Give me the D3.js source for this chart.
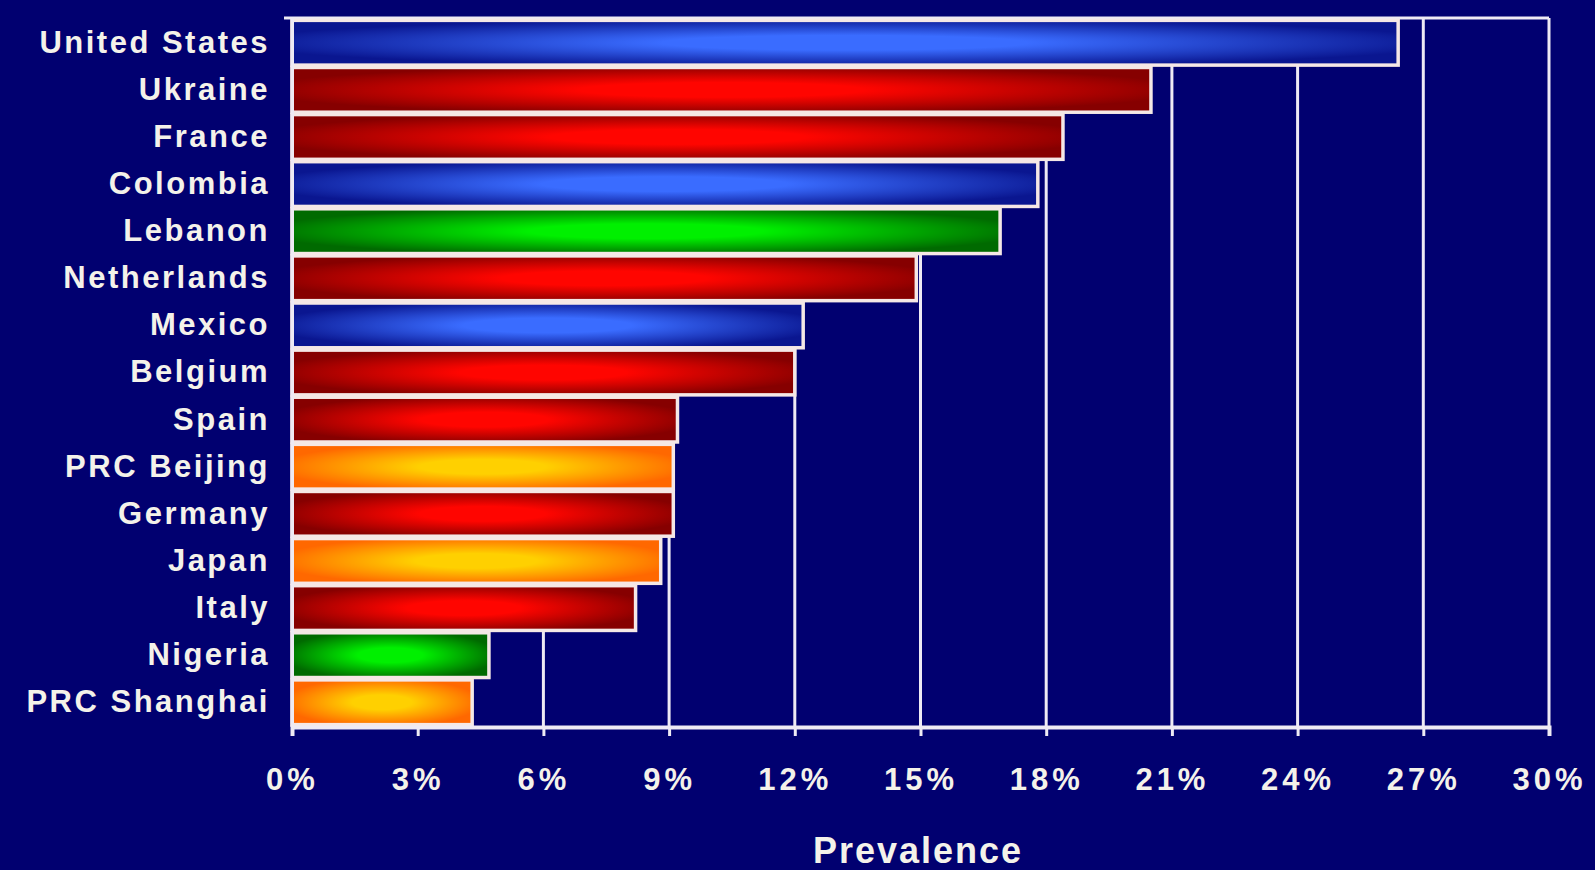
<!DOCTYPE html>
<html>
<head>
<meta charset="utf-8">
<script src="https://cdn.jsdelivr.net/npm/d3@7"></script>
<style>
  html, body { margin: 0; padding: 0; background: #010070; }
  svg { display: block; }
  text { font-family: "Liberation Sans", Arial, sans-serif; font-weight: bold; fill: #f4f2ea; }
</style>
</head>
<body>
<svg id="chart" width="1595" height="870"></svg>
<script>
const countries = ["United States","Ukraine","France","Colombia","Lebanon","Netherlands","Mexico","Belgium","Spain","PRC Beijing","Germany","Japan","Italy","Nigeria","PRC Shanghai"];
const prevalence = [0.264,0.205,0.184,0.178,0.169,0.149,0.122,0.120,0.092,0.091,0.091,0.088,0.082,0.047,0.043];
const region = ["americas","europe","europe","americas","mideast","europe","americas","europe","europe","asia","europe","asia","europe","africa","asia"];
const tickValues = [0,0.03,0.06,0.09,0.12,0.15,0.18,0.21,0.24,0.27,0.30];
const axisTitle = "Prevalence";

const palette = {
  americas: ["#3a6cff", "#0a1690"],
  europe:   ["#ff0500", "#860000"],
  mideast:  ["#00f000", "#006a00"],
  africa:   ["#00f000", "#006a00"],
  asia:     ["#ffd000", "#ff6800"]
};

const svg = d3.select("#chart");
const plotLeft = 292, plotRight = 1549, plotTop = 18, plotBottom = 727;

const x = d3.scaleLinear().domain([0, 0.30]).range([plotLeft, plotRight]);
const y = d3.scaleBand().domain(countries).range([plotTop, plotBottom]).paddingInner(0.05).paddingOuter(0.05);

const defs = svg.append("defs");
Object.entries(palette).forEach(([k, c]) => {
  const g = defs.append("radialGradient").attr("id", "g-" + k)
    .attr("cx", "0.5").attr("cy", "0.5").attr("r", "0.55");
  g.append("stop").attr("offset", "0").attr("stop-color", c[0]);
  g.append("stop").attr("offset", "0.3").attr("stop-color", c[0]);
  g.append("stop").attr("offset", "1").attr("stop-color", c[1]);
});

const lineColor = "#eeeaf4";

// gridlines
svg.append("g").selectAll("line").data(tickValues).join("line")
  .attr("x1", d => x(d)).attr("x2", d => x(d))
  .attr("y1", plotTop).attr("y2", plotBottom)
  .attr("stroke", lineColor).attr("stroke-width", 3);

// top border
svg.append("line").attr("x1", plotLeft - 8).attr("x2", plotRight).attr("y1", plotTop).attr("y2", plotTop)
  .attr("stroke", lineColor).attr("stroke-width", 3);

// bars
svg.append("g").selectAll("rect").data(countries).join("rect")
  .attr("x", x(0))
  .attr("y", d => y(d))
  .attr("width", (d, i) => x(prevalence[i]) - x(0))
  .attr("height", y.bandwidth())
  .attr("fill", (d, i) => "url(#g-" + region[i] + ")")
  .attr("stroke", "#f5e8e6").attr("stroke-width", 3.5);

// x axis
const xAxis = d3.axisBottom(x).tickValues(tickValues).tickFormat(d3.format(".0%")).tickSize(9).tickPadding(32);
const gx = svg.append("g").attr("transform", `translate(0,${plotBottom})`).call(xAxis);
gx.select(".domain").attr("stroke", lineColor).attr("stroke-width", 4);
gx.selectAll(".tick line").attr("stroke", lineColor).attr("stroke-width", 3);
gx.selectAll(".tick text").attr("font-size", 31).attr("fill", "#f4f2ea").attr("letter-spacing", 4)
  .attr("font-family", "Liberation Sans, Arial, sans-serif").attr("font-weight", "bold");

// y axis
const yAxis = d3.axisLeft(y).tickSize(0).tickPadding(22);
const gy = svg.append("g").attr("transform", `translate(${plotLeft},0)`).call(yAxis);
gy.select(".domain").attr("stroke", lineColor).attr("stroke-width", 3);
gy.selectAll(".tick text").attr("font-size", 31).attr("fill", "#f4f2ea").attr("letter-spacing", 2.5)
  .attr("font-family", "Liberation Sans, Arial, sans-serif").attr("font-weight", "bold");

// axis title
svg.append("text").attr("x", 918).attr("y", 863).attr("text-anchor", "middle")
  .attr("font-size", 36).attr("letter-spacing", 2).text(axisTitle);
</script>
</body>
</html>
